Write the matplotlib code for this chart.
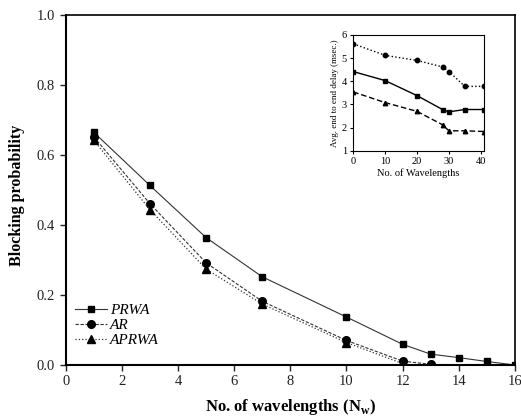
import matplotlib
matplotlib.use("Agg")
import matplotlib.pyplot as plt

plt.rcParams['font.family'] = ['Liberation Serif', 'DejaVu Serif']
plt.rcParams['mathtext.fontset'] = 'custom'
plt.rcParams['mathtext.rm'] = 'Liberation Serif'
plt.rcParams['mathtext.bf'] = 'Liberation Serif:bold'

# main chart data
x_prwa = [1, 3, 5, 7, 10, 12, 13, 14, 15, 16]
y_prwa = [0.665, 0.513, 0.364, 0.252, 0.137, 0.059, 0.031, 0.021, 0.010, 0.0]
x_ar = [1, 3, 5, 7, 10, 12, 13]
y_ar = [0.652, 0.461, 0.292, 0.182, 0.070, 0.011, 0.002]
x_aprwa = [1, 3, 5, 7, 10, 12]
y_aprwa = [0.642, 0.444, 0.274, 0.174, 0.064, 0.004]

# inset data
inset_x = [0, 10, 20, 28, 30, 35, 41]
inset_circ = [5.62, 5.12, 4.90, 4.62, 4.42, 3.78, 3.78]
inset_sq = [4.42, 4.03, 3.38, 2.78, 2.68, 2.78, 2.78]
inset_tri = [3.54, 3.08, 2.70, 2.12, 1.86, 1.86, 1.83]

fig = plt.figure(figsize=(5.21, 4.16), dpi=100)
ax = fig.add_axes([0.126, 0.1226, 0.8625, 0.8414])

ax.plot(x_prwa, y_prwa, '-', color='#333333', lw=0.8, marker='s', ms=4.8,
        mfc='black', mec='black', label='PRWA')
ax.plot(x_ar, y_ar, '--', color='#333333', lw=0.8, dashes=(3, 1.5), marker='o', ms=5.5,
        mfc='black', mec='black', label='AR')
ax.plot(x_aprwa, y_aprwa, ':', color='#333333', lw=0.9, marker='^', ms=6,
        mfc='black', mec='black', label='APRWA')

ax.set_xlim(0, 16)
ax.set_ylim(0, 1.0)
ax.set_xticks(range(0, 17, 2))
ax.set_yticks([0.0, 0.2, 0.4, 0.6, 0.8, 1.0])
ax.set_yticklabels(['0.0', '0.2', '0.4', '0.6', '0.8', '1.0'])
ax.tick_params(direction='out', length=4, width=1.0, labelsize=10.5, colors='#222222')
for s in ['left', 'bottom']:
    ax.spines[s].set_linewidth(1.5)
for s in ['top', 'right']:
    ax.spines[s].set_linewidth(1.2)
ax.set_xlabel('No. of wavelengths (N$_\\mathbf{w}$)', fontsize=12, fontweight='bold', labelpad=6)
ax.set_ylabel('Blocking probability', fontsize=11.5, fontweight='bold')
ax.yaxis.set_label_coords(-0.09, 0.486)

leg = ax.legend(loc='lower left', bbox_to_anchor=(0.02, 0.05), frameon=False,
                fontsize=11, handlelength=2.1, handletextpad=0.2, labelspacing=0.1,
                borderaxespad=0, borderpad=0)
for t in leg.get_texts():
    t.set_fontstyle('italic')

# inset
ins = fig.add_axes([0.678, 0.6377, 0.251, 0.2782])
ins.plot(inset_x, inset_circ, ':', color='black', lw=1.0, marker='o', ms=3.2)
ins.plot(inset_x, inset_sq, '-', color='black', lw=1.0, marker='s', ms=3.2)
ins.plot(inset_x, inset_tri, '--', color='black', lw=1.0, dashes=(4, 2), marker='^', ms=3.2)
ins.set_xlim(0, 41)
ins.set_ylim(1, 6)
ins.set_xticks([0, 10, 20, 30, 40])
ins.set_yticks([1, 2, 3, 4, 5, 6])
ins.tick_params(direction='out', length=2.5, width=0.8, labelsize=7.5, pad=2)
for s in ins.spines.values():
    s.set_linewidth(0.8)
ins.set_xlabel('No. of Wavelengths', fontsize=7.5, labelpad=2)
ins.set_ylabel('Avg. end to end delay (msec.)', fontsize=6.5, labelpad=2)

fig.savefig('out.png', dpi=100)
